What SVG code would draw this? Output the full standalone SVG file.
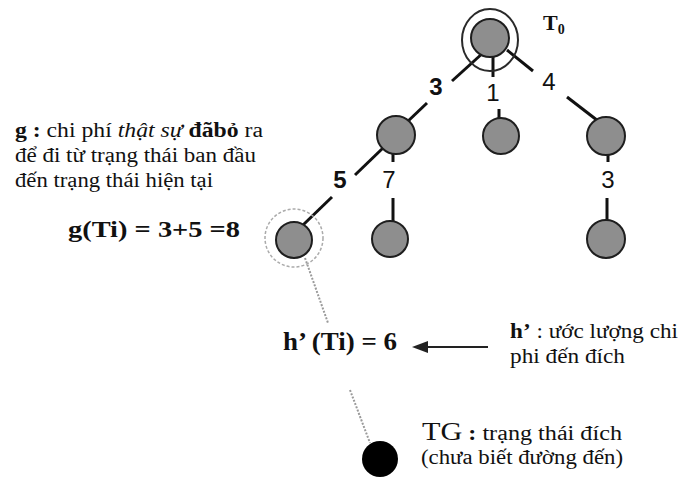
<svg xmlns="http://www.w3.org/2000/svg" width="680" height="477" viewBox="0 0 680 477">
<style>
.n{fill:#8e8e8e;stroke:#1e1e1e;stroke-width:2}
.e{stroke:#111;stroke-width:3;fill:none;stroke-linecap:butt}
.d{stroke:#9a9a9a;stroke-width:2;stroke-dasharray:2 1.5;fill:none}
.num{font-family:"Liberation Sans",Arial,sans-serif;font-size:24px;fill:#111;text-anchor:middle}
.b{font-weight:bold}
.s{font-family:"Liberation Serif","Times New Roman",serif;fill:#111}
.v{font-family:"Liberation Serif","DejaVu Serif",serif;fill:#111}
</style>
<rect width="680" height="477" fill="#fff"/>
<g id="connectors">
<line class="e" x1="484" y1="52" x2="452" y2="81"/>
<line class="e" x1="427" y1="103" x2="405" y2="124"/>
<line class="e" x1="493" y1="52" x2="493" y2="77"/>
<line class="e" x1="499" y1="109" x2="499" y2="120"/>
<line class="e" x1="507" y1="50" x2="533" y2="71"/>
<line class="e" x1="567" y1="97" x2="602" y2="124"/>
<line class="e" x1="383" y1="148" x2="355" y2="175"/>
<line class="e" x1="332" y1="197" x2="303" y2="225"/>
<line class="e" x1="393" y1="150" x2="393" y2="162"/>
<line class="e" x1="393" y1="198" x2="393" y2="222"/>
<line class="e" x1="608" y1="154" x2="608" y2="162"/>
<line class="e" x1="607" y1="198" x2="607" y2="222"/>
<line class="d" x1="305" y1="258" x2="328" y2="323"/>
<line class="d" x1="350" y1="390" x2="370" y2="443"/>
<line x1="488" y1="347" x2="424" y2="347" stroke="#222" stroke-width="2"/>
<polygon points="412,347 428,341 428,353" fill="#222"/>
</g>
<g id="root">
<ellipse cx="490" cy="40" rx="28" ry="31" fill="none" stroke="#2a2a2a" stroke-width="2"/>
<circle class="n" cx="490" cy="38" r="19"/>
<text class="s b" x="543" y="30" font-size="22">T<tspan font-size="14" dy="4">0</tspan></text>
</g>
<g id="n1"><circle class="n" cx="396" cy="135" r="19"/></g>
<g id="n2"><circle class="n" cx="501" cy="136" r="18"/></g>
<g id="n3"><circle class="n" cx="606" cy="136" r="19"/></g>
<g id="n4">
<circle cx="294" cy="238" r="29" fill="none" stroke="#aaa" stroke-width="1.5" stroke-dasharray="3 2"/>
<circle class="n" cx="294" cy="240" r="18"/>
</g>
<g id="n5"><circle class="n" cx="390" cy="239" r="18"/></g>
<g id="n6"><circle class="n" cx="606" cy="239" r="19"/></g>
<g id="goal"><circle cx="380" cy="459" r="18" fill="#000"/></g>
<g id="labels">
<text class="num b" x="436" y="95">3</text>
<text class="num" x="493" y="101">1</text>
<text class="num" x="549" y="90">4</text>
<text class="num b" x="340" y="188">5</text>
<text class="num" x="389" y="188">7</text>
<text class="num" x="608" y="188">3</text>
</g>
<g id="g-note">
<text class="v" x="15" y="137" font-size="20" textLength="248" lengthAdjust="spacingAndGlyphs"><tspan class="b">g :</tspan> chi phí <tspan font-style="italic">thật sự</tspan> <tspan class="b">đãbỏ</tspan> ra</text>
<text class="v" x="15" y="162" font-size="20" textLength="241" lengthAdjust="spacingAndGlyphs">để đi từ trạng thái ban đầu</text>
<text class="v" x="15" y="187" font-size="20" textLength="198" lengthAdjust="spacingAndGlyphs">đến trạng thái hiện tại</text>
</g>
<g id="g-value">
<text class="s b" x="68" y="237" font-size="23" textLength="172" lengthAdjust="spacingAndGlyphs">g(Ti) = 3+5 =8</text>
</g>
<g id="h-value">
<text class="s b" x="283" y="350" font-size="25" textLength="114" lengthAdjust="spacingAndGlyphs">h’ (Ti) = 6</text>
</g>
<g id="h-note">
<text class="v" x="510" y="338" font-size="21" textLength="168" lengthAdjust="spacingAndGlyphs"><tspan class="b">h’</tspan> : ước lượng chi</text>
<text class="v" x="510" y="363" font-size="21" textLength="115" lengthAdjust="spacingAndGlyphs">phi đến đích</text>
</g>
<g id="tg-note">
<text class="v" x="422" y="440" font-size="20" textLength="200" lengthAdjust="spacingAndGlyphs"><tspan font-size="25">TG</tspan> <tspan class="b">:</tspan> trạng thái đích</text>
<text class="v" x="421" y="464" font-size="20" textLength="202" lengthAdjust="spacingAndGlyphs">(chưa biết đường đến)</text>
</g>
</svg>
